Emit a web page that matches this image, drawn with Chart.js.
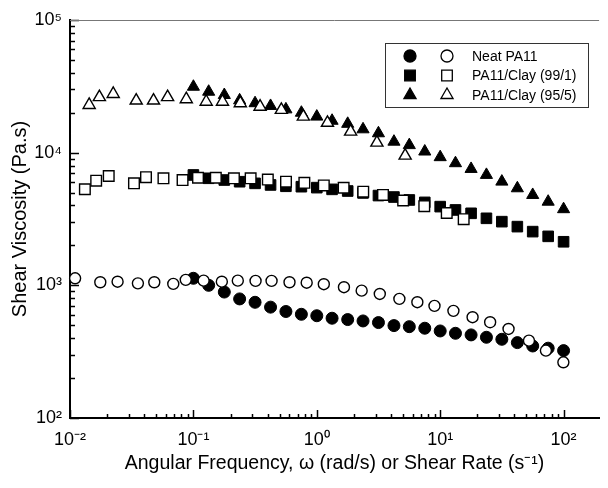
<!DOCTYPE html>
<html>
<head>
  <title>Shear viscosity</title>
  <script src="https://cdn.jsdelivr.net/npm/chart.js@4.4.0/dist/chart.umd.min.js"></script>
  <style>
html, body {
  margin: 0;
  padding: 0;
  background: #fff;
}
  </style>
</head>
<body>
<canvas id="viscChart" width="608" height="488"></canvas>
<script>
// oscillatory sweep frequencies (filled symbols)
var dynFreq = [0.1, 0.133, 0.178, 0.237, 0.316, 0.422, 0.562, 0.750, 1.0, 1.33, 1.78, 2.37, 3.16,
  4.22, 5.62, 7.50, 10.0, 13.3, 17.8, 23.7, 31.6, 42.2, 56.2, 75.0, 100];

var neatFilledY = [1130, 1000, 890, 790, 745, 685, 635, 605, 590, 565, 552, 539, 524,
  497, 488, 475, 453, 435, 423, 406, 392, 370, 349, 336, 322];
var clay1FilledY = [6790, 6410, 6220, 6040, 5870, 5710, 5580, 5540, 5450, 5290, 5140, 4970, 4750,
  4630, 4400, 4220, 3920, 3700, 3490, 3200, 3020, 2770, 2540, 2340, 2130];
var clay5FilledY = [31400, 28800, 27200, 24800, 23600, 22500, 21200, 20000, 18700, 17400, 16500, 15000, 14000,
  12100, 11400, 10200, 9250, 8330, 7540, 6800, 6050, 5390, 4800, 4270, 3750];

// steady shear (open symbols)
var neatOpenX = [0.011, 0.0176, 0.0243, 0.0355, 0.0482, 0.0687, 0.0867, 0.121, 0.170, 0.229, 0.319, 0.430,
  0.601, 0.828, 1.14, 1.66, 2.31, 3.24, 4.67, 6.53, 8.99, 12.8, 18.3, 25.4, 35.8, 52.4, 71.9, 99.6];
var neatOpenY = [1130, 1055, 1065, 1035, 1055, 1025, 1100, 1085, 1065, 1085, 1080, 1080,
  1055, 1047, 1020, 968, 912, 861, 790, 746, 700, 642, 575, 527, 469, 383, 322, 263];

var clay1OpenX = [0.0132, 0.0163, 0.0206, 0.0330, 0.0413, 0.0572, 0.0817, 0.109, 0.152, 0.213, 0.291,
  0.401, 0.563, 0.793, 1.14, 1.65, 2.38, 3.44, 5.01, 7.43, 11.3, 15.5];
var clay1OpenY = [5300, 6150, 6670, 5870, 6530, 6410, 6220, 6470, 6470, 6410, 6410,
  6270, 6040, 5930, 5660, 5440, 5080, 4800, 4360, 3950, 3510, 3150];

var clay5OpenX = [0.0143, 0.0173, 0.0224, 0.0344, 0.0475, 0.0618, 0.0876, 0.127, 0.172, 0.240, 0.347,
  0.516, 0.778, 1.22, 1.88, 3.07, 5.20];
var clay5OpenY = [22900, 26200, 27700, 24700, 24700, 26200, 25300, 24200, 24200, 23600, 22200,
  21000, 18700, 16800, 14400, 11900, 9500];

var seriesLabels = ['Neat PA11', 'PA11/Clay (99/1)', 'PA11/Clay (95/5)'];

var xDecades = [0.01, 0.1, 1, 10, 100];
var xTickLabels = ['10\u207B\u00B2', '10\u207B\u00B9', '10\u2070', '10\u00B9', '10\u00B2'];
var yDecades = [100, 1000, 10000, 100000];
var yTickLabels = ['10\u00B2', '10\u00B3', '10\u2074', '10\u2075'];

function pairs(xs, ys) {
  return xs.map(function(x, i) { return {x: x, y: ys[i]}; });
}

function logTicks(decades, max) {
  var list = [];
  decades.forEach(function(d) {
    list.push({value: d});
    for (var m = 2; m <= 9; m++) {
      if (m * d <= max) list.push({value: m * d});
    }
  });
  return list;
}

function drawMarker(ctx, style, x, y, r, fill) {
  ctx.beginPath();
  if (style === 'circle') {
    ctx.arc(x, y, r, 0, Math.PI * 2);
  } else if (style === 'rect') {
    var s = r * Math.SQRT1_2;
    ctx.rect(x - s, y - s, 2 * s, 2 * s);
  } else {
    var c = Math.cos(Math.PI / 6) * r;
    ctx.moveTo(x, y - r);
    ctx.lineTo(x + c, y + r / 2);
    ctx.lineTo(x - c, y + r / 2);
  }
  ctx.closePath();
  ctx.fillStyle = fill;
  ctx.fill();
  ctx.stroke();
}

// ticks pointing into the plot + thin top frame line
var inwardTicks = {
  id: 'inwardTicks',
  beforeDatasetsDraw: function(chart) {
    var ctx = chart.ctx, area = chart.chartArea;
    var xs = chart.scales.x, ys = chart.scales.y;
    ctx.save();
    ctx.strokeStyle = '#000';
    ctx.lineWidth = 1.5;
    xs.ticks.forEach(function(t) {
      var px = Math.round(xs.getPixelForValue(t.value)) + 0.5;
      var len = xDecades.indexOf(t.value) >= 0 ? 8 : 4;
      ctx.beginPath();
      ctx.moveTo(px, area.bottom);
      ctx.lineTo(px, area.bottom - len);
      ctx.stroke();
    });
    ys.ticks.forEach(function(t) {
      var py = Math.round(ys.getPixelForValue(t.value)) + 0.5;
      var len = yDecades.indexOf(t.value) >= 0 ? 9 : 5;
      ctx.beginPath();
      ctx.moveTo(area.left, py);
      ctx.lineTo(area.left + len, py);
      ctx.stroke();
    });
    ctx.strokeStyle = '#777';
    ctx.lineWidth = 1;
    ctx.beginPath();
    ctx.moveTo(area.left, area.top + 0.5);
    ctx.lineTo(area.right, area.top + 0.5);
    ctx.stroke();
    ctx.restore();
  }
};

// legend with a filled and an open symbol per row
var pairLegend = {
  id: 'pairLegend',
  afterDraw: function(chart) {
    var ctx = chart.ctx;
    var styles = ['circle', 'rect', 'triangle'];
    var radii = [6, 7.5, 7];
    ctx.save();
    ctx.fillStyle = '#fff';
    ctx.fillRect(385, 43, 203, 64);
    ctx.strokeStyle = '#333';
    ctx.lineWidth = 1;
    ctx.strokeRect(385.5, 43.5, 203, 64);
    ctx.font = '14px "Liberation Sans", Arial, sans-serif';
    ctx.textBaseline = 'middle';
    for (var i = 0; i < 3; i++) {
      var y = 56 + i * 19.5;
      ctx.strokeStyle = '#000';
      ctx.lineWidth = 1.3;
      drawMarker(ctx, styles[i], 410, y, radii[i], '#000');
      drawMarker(ctx, styles[i], 447, y, radii[i], '#fff');
      ctx.fillStyle = '#000';
      ctx.fillText(seriesLabels[i], 472, y + 1);
    }
    ctx.restore();
  }
};

function filledSet(label, ys, style, r) {
  return {
    label: label, data: pairs(dynFreq, ys), pointStyle: style, pointRadius: r,
    backgroundColor: '#000', borderColor: '#000', borderWidth: 1, order: 1, clip: false
  };
}
function openSet(label, xs, ys, style, r) {
  return {
    label: label, data: pairs(xs, ys), pointStyle: style, pointRadius: r,
    backgroundColor: '#fff', borderColor: '#000', borderWidth: 1.4, order: 0, clip: false
  };
}

Chart.defaults.font.family = '"Liberation Sans", Arial, sans-serif';
Chart.defaults.color = '#000';

var ctx = document.getElementById('viscChart').getContext('2d');
var viscChart = new Chart(ctx, {
  type: 'scatter',
  data: {
    datasets: [
      filledSet(seriesLabels[0], neatFilledY, 'circle', 6),
      openSet(seriesLabels[0], neatOpenX, neatOpenY, 'circle', 5.5),
      filledSet(seriesLabels[1], clay1FilledY, 'rect', 7.5),
      openSet(seriesLabels[1], clay1OpenX, clay1OpenY, 'rect', 7.5),
      filledSet(seriesLabels[2], clay5FilledY, 'triangle', 7),
      openSet(seriesLabels[2], clay5OpenX, clay5OpenY, 'triangle', 7)
    ]
  },
  options: {
    responsive: false,
    animation: false,
    layout: { padding: { top: 20, right: 0, left: 0, bottom: 0 } },
    plugins: { legend: { display: false }, tooltip: { enabled: false } },
    scales: {
      x: {
        type: 'logarithmic',
        min: 0.01,
        max: 194,
        afterBuildTicks: function(scale) { scale.ticks = logTicks(xDecades, 194); },
        afterFit: function(scale) { scale.height = 70; },
        grid: { drawOnChartArea: false, drawTicks: false },
        border: { display: true, color: '#000', width: 2 },
        ticks: {
          autoSkip: false,
          maxRotation: 0,
          padding: 11,
          font: { size: 18 },
          callback: function(value) {
            var i = xDecades.indexOf(value);
            return i >= 0 ? xTickLabels[i] : '';
          }
        },
        title: {
          display: true,
          text: 'Angular Frequency, \u03C9 (rad/s) or Shear Rate (s\u207B\u00B9)',
          font: { size: 19.5 },
          padding: { top: 0, bottom: 13 }
        }
      },
      y: {
        type: 'logarithmic',
        min: 100,
        max: 100000,
        afterBuildTicks: function(scale) { scale.ticks = logTicks(yDecades, 100000); },
        afterFit: function(scale) { scale.width = 70; },
        grid: { drawOnChartArea: false, drawTicks: false },
        border: { display: true, color: '#000', width: 2 },
        ticks: {
          autoSkip: false,
          padding: 8,
          font: { size: 18 },
          callback: function(value) {
            var i = yDecades.indexOf(value);
            return i >= 0 ? yTickLabels[i] : '';
          }
        },
        title: {
          display: true,
          text: 'Shear Viscosity (Pa.s)',
          font: { size: 20 },
          padding: { top: 8, bottom: 0 }
        }
      }
    }
  },
  plugins: [inwardTicks, pairLegend]
});
</script>
</body>
</html>
